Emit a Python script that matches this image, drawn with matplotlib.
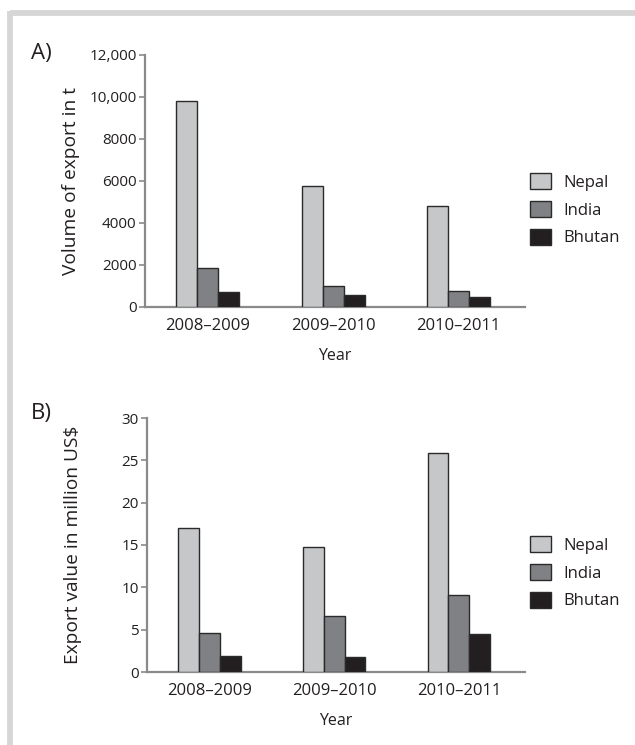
import matplotlib
matplotlib.use("Agg")
import matplotlib.pyplot as plt
import numpy as np
from matplotlib.lines import Line2D

plt.rcParams['font.family'] = ['Open Sans', 'DejaVu Sans']

years = ["2008\u20132009", "2009\u20132010", "2010\u20132011"]
countries = ["Nepal", "India", "Bhutan"]
volume_t = {
    "Nepal": [9800, 5780, 4820],
    "India": [1870, 1000, 770],
    "Bhutan": [700, 560, 480],
}
value_musd = {
    "Nepal": [17.0, 14.8, 25.9],
    "India": [4.6, 6.6, 9.1],
    "Bhutan": [1.9, 1.8, 4.5],
}
colors = {"Nepal": "#c6c7c8", "India": "#808184", "Bhutan": "#231f20"}

W, H = 635, 745
fig = plt.figure(figsize=(W / 100, H / 100), dpi=100)

# frame: only top and left bands
fc = "#d6d6d6"
fig.add_artist(Line2D([9.5 / W, 1.0], [1 - 12.5 / H, 1 - 12.5 / H], transform=fig.transFigure,
                      color=fc, linewidth=4.2, solid_capstyle="butt"))
fig.add_artist(Line2D([9.5 / W, 9.5 / W], [0, 1 - 10.5 / H], transform=fig.transFigure,
                      color=fc, linewidth=4.2, solid_capstyle="butt"))

spine_c = "#8a8a8a"
text_c = "#231f20"

def panel(rect, data, ylim, yticks, yticklabels, ylabel, tag, tag_y, leg_y, lab_x):
    ax = fig.add_axes(rect)
    x = np.arange(len(years))
    w = 0.167
    for i, c in enumerate(countries):
        ax.bar(x + (i - 1) * w, data[c], width=w, color=colors[c], edgecolor="#2a2a2a",
               linewidth=1.0, label=c, zorder=3)
    ax.set_xlim(-0.5, 2.53)
    ax.set_ylim(*ylim)
    ax.set_yticks(yticks)
    ax.set_yticklabels(yticklabels)
    ax.set_xticks(x)
    ax.set_xticklabels(years)
    for s in ["top", "right"]:
        ax.spines[s].set_visible(False)
    for s in ["left", "bottom"]:
        ax.spines[s].set_color(spine_c)
        ax.spines[s].set_linewidth(1.6)
    ax.tick_params(axis="y", direction="out", length=4, width=1.2, color=spine_c,
                   labelsize=11, labelcolor=text_c, pad=2)
    ax.tick_params(axis="x", length=0, labelsize=12, labelcolor=text_c, pad=8)
    ax.set_xlabel("Year", fontsize=11.5, color=text_c, labelpad=10)
    ax.set_ylabel(ylabel, fontsize=13.8, color=text_c)
    ax.yaxis.set_label_coords(lab_x, 0.5)
    leg = ax.legend(loc="center left", bbox_to_anchor=(1.0, leg_y), frameon=False,
                    fontsize=12, handlelength=1.25, handleheight=1.1,
                    labelspacing=0.6, handletextpad=0.75, borderaxespad=0.0, borderpad=0.3)
    for t in leg.get_texts():
        t.set_color(text_c)
    fig.text(31 / W, 1 - tag_y / H, tag, fontsize=16, color=text_c, va="center", ha="left")
    return ax

panel([145 / W, 1 - 307 / H, 380 / W, 252 / H], volume_t, (0, 12000),
      [0, 2000, 4000, 6000, 8000, 10000, 12000],
      ["0", "2000", "4000", "6000", "8000", "10,000", "12,000"],
      "Volume of export in t", "A)", 53, 0.385, -0.172)
panel([147 / W, 1 - 672 / H, 378 / W, 254 / H], value_musd, (0, 30),
      [0, 5, 10, 15, 20, 25, 30],
      ["0", "5", "10", "15", "20", "25", "30"],
      "Export value in million US$", "B)", 413, 0.39, -0.173)

fig.savefig("out.png", dpi=100, facecolor="white")
